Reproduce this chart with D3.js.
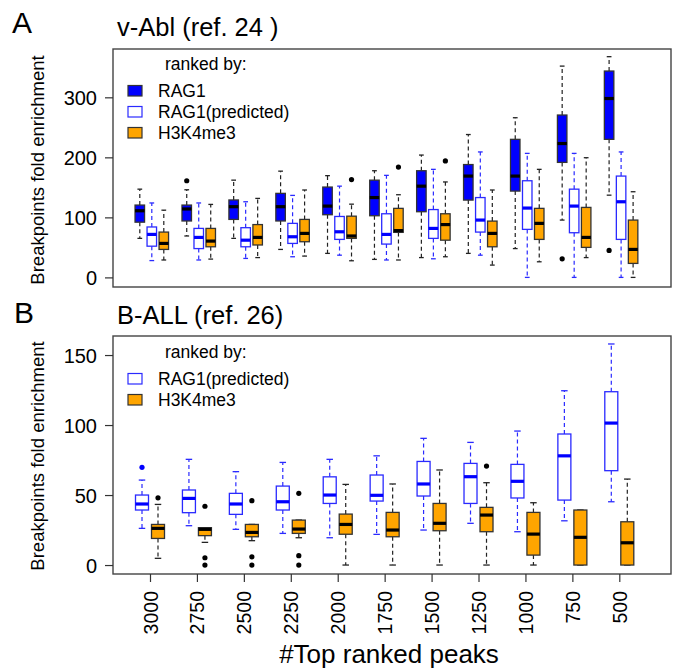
<!DOCTYPE html>
<html><head><meta charset="utf-8">
<script src="https://cdn.jsdelivr.net/npm/d3@7"></script>
<style>
body{margin:0;background:#fff}
svg{display:block}
text{font-family:"Liberation Sans",Arial,Helvetica,sans-serif;fill:#000}
</style>
</head><body><svg id="c" width="678" height="670"></svg>
<script>
// ---------- DATA ----------
const groups = ["3000","2750","2500","2250","2000","1750","1500","1250","1000","750","500"];
// each box: [lower whisker, Q1, median, Q3, upper whisker]
const ablRAG1 = [[65,92,111,120.5,147],[69,94,114,120.5,146],[65,96.6,117.8,129,162],[46.6,94,117.8,140,177],[40,104.4,118.8,150.5,169.5],[30,102.7,133,162,177.7],[33,109.4,152,177.7,203.8],[40,128.8,168.8,188,238],[48,143.8,168.8,230,266],[95.5,191.6,223,270.5,352],[137,230,298,343.8,367.7]];
const ablRAG1Out = [[],[161],[],[],[],[],[],[],[],[31],[45]];
const ablPred = [[28,52,71.6,84,124],[29,48,66.6,81.6,124],[31.6,51,62,82.8,126],[34.4,56.6,67.7,90,136.6],[37,63.3,76,101.5,152],[29,55.5,71.6,106,170],[31,65,81.6,113,180],[37,75.5,95.5,133,209],[0,80,115.5,161,206.6],[0,74.4,118.8,147,206.6],[0,63.3,126,168.8,209]];
const ablPredOut = [[],[],[],[],[],[],[],[],[],[],[]];
const ablH3K = [[29,46.6,56.6,75.5,112],[30.5,51,60.5,81.6,121.6],[33,54,66.6,88,131.6],[35.5,59.4,73.3,96.6,145.6],[27.7,65,69,102,122],[29,75,78,115,137.7],[34.4,62,88,106,159],[20.5,51,73.3,93.8,145.6],[26,63.3,90,115,180],[33,50,66.6,116.6,199.4],[0,23.3,46.6,95.5,142.7]];
const ablH3KOut = [[],[],[],[],[163],[183.8],[194],[],[],[],[]];

const ballPred = [[26.2,39.3,43.6,50,60.7],[28.1,37.4,47.6,53.6,75.5],[25.5,36.2,43.6,51.2,66.7],[22.6,39.3,45.2,56.4,73.3],[19.5,44,50,63,75.5],[21.9,45.7,49.8,64.3,78],[25,49.3,57.9,74,90.5],[29.8,44,63.1,72.6,87.6],[23.8,47.9,59.8,71.9,95.7],[31.6,46.4,78,93.6,124.5],[45.2,67.4,101.4,123.8,157.9]];
const ballPredOut = [[69.8],[],[],[],[],[],[],[],[],[],[]];
const ballH3K = [[4.8,19,26.2,29,43.3],[16.2,21,25.5,26.7,26.7],[17.4,20.2,23.3,29,29],[19.5,22.6,25.7,32.1,32.1],[0,22,29,36.4,57.6],[0,20.2,25,37.6,57.9],[0,24.5,29.8,44,67.9],[0,23.8,35.7,41.2,58.8],[0,7.1,22.1,37.6,44.5],[0,0,19.8,39.3,39.3],[0,0,15.9,30.9,61.4]];
const ballH3KOut = [[48],[42,5.2,0],[46,5.9,0],[51.2,6.7,0],[],[],[],[70.7],[],[],[]];

const ablTicks = [0,100,200,300];
const ballTicks = [0,50,100,150];
const seriesA = ["RAG1","RAG1(predicted)","H3K4me3"];
const seriesB = ["RAG1(predicted)","H3K4me3"];

// ---------- STYLE ----------
const styles = {
  "RAG1": {fill:"#0000ff", stroke:"#333", median:"#000", whisk:"#222", out:"#000"},
  "RAG1(predicted)": {fill:"#fff", stroke:"#2a2aff", median:"#0000ff", whisk:"#2a2aff", out:"#0000ff"},
  "H3K4me3": {fill:"#ffa500", stroke:"#333", median:"#000", whisk:"#222", out:"#000"}
};
const svg = d3.select("#c");
const L = 113, R = 671;
const x = d3.scalePoint().domain(groups).range([150, 619.3]);

function panel(cfg){
  const g = svg.append("g");
  const y = d3.scaleLinear().domain(cfg.domain).range([cfg.bottom, cfg.top]);
  const sub = d3.scalePoint().domain(cfg.series).range(cfg.offRange);
  cfg.data.forEach((arr, si) => {
    const name = cfg.series[si];
    const st = styles[name];
    const outs = cfg.outs[si];
    arr.forEach((b, gi) => {
      const cx = x(groups[gi]) + sub(name);
      const w = cfg.bw, hw = w/2, cap = w/4;
      const bg = g.append("g");
      bg.append("line").attr("x1",cx).attr("x2",cx).attr("y1",y(b[3])).attr("y2",y(b[4]))
        .attr("stroke",st.whisk).attr("stroke-width",1.2).attr("stroke-dasharray","4,3");
      bg.append("line").attr("x1",cx).attr("x2",cx).attr("y1",y(b[1])).attr("y2",y(b[0]))
        .attr("stroke",st.whisk).attr("stroke-width",1.2).attr("stroke-dasharray","4,3");
      [b[0], b[4]].forEach(v => bg.append("line").attr("x1",cx-cap).attr("x2",cx+cap)
        .attr("y1",y(v)).attr("y2",y(v)).attr("stroke",st.whisk).attr("stroke-width",1.3));
      bg.append("rect").attr("x",cx-hw).attr("y",y(b[3])).attr("width",w).attr("height",Math.max(0,y(b[1])-y(b[3])))
        .attr("fill",st.fill).attr("stroke",st.stroke).attr("stroke-width",1.3);
      bg.append("line").attr("x1",cx-hw).attr("x2",cx+hw).attr("y1",y(b[2])).attr("y2",y(b[2]))
        .attr("stroke",st.median).attr("stroke-width",3.2);
      (outs[gi]||[]).forEach(v => bg.append("circle").attr("cx",cx).attr("cy",y(v)).attr("r",2.6).attr("fill",st.out));
    });
  });
  g.append("rect").attr("x",L).attr("y",cfg.top).attr("width",R-L).attr("height",cfg.bottom-cfg.top)
    .attr("fill","none").attr("stroke","#444").attr("stroke-width",1.4);
  const ya = g.append("g").attr("transform",`translate(${L},0)`)
    .call(d3.axisLeft(y).tickValues(cfg.ticks).tickSize(8).tickPadding(8).tickFormat(d3.format("d")));
  ya.select(".domain").remove();
  ya.selectAll(".tick line").attr("stroke","#333").attr("stroke-width",1.2);
  ya.selectAll(".tick text").style("font-size","20px").attr("dy","0.36em");
  g.append("text").attr("transform",`translate(44,${cfg.ycenter}) rotate(-90)`).attr("text-anchor","middle")
    .style("font-size","18.5px").text("Breakpoints fold enrichment");
  g.append("text").attr("x",cfg.letterX).attr("y",cfg.letterY).style("font-size","30px").text(cfg.letter);
  g.append("text").attr("x",117).attr("y",cfg.titleY).style("font-size","25.5px").text(cfg.title);
  const lg = g.append("g");
  lg.append("text").attr("x",165).attr("y",cfg.legTop).style("font-size","17.5px").text("ranked by:");
  cfg.series.forEach((name,i) => {
    const st = styles[name];
    const by = cfg.legTop + 26.5 + i*21;
    lg.append("rect").attr("x",128).attr("y",by-11).attr("width",14).attr("height",10.5)
      .attr("fill",st.fill).attr("stroke",st.stroke).attr("stroke-width",1.2);
    lg.append("text").attr("x",158).attr("y",by).style("font-size","17.5px").text(name);
  });
  return g;
}

panel({domain:[-16,380.5], top:49, bottom:287, series:seriesA, offRange:[-10.2,13.8], bw:9.5,
  data:[ablRAG1, ablPred, ablH3K], outs:[ablRAG1Out, ablPredOut, ablH3KOut], ticks:ablTicks,
  ycenter:170, letter:"A", letterX:12, letterY:33, title:"v-Abl (ref. 24 )", titleY:36, legTop:70});

panel({domain:[-6.4,163.6], top:336, bottom:574, series:seriesB, offRange:[-8,8], bw:13,
  data:[ballPred, ballH3K], outs:[ballPredOut, ballH3KOut], ticks:ballTicks,
  ycenter:456, letter:"B", letterX:14, letterY:323, title:"B-ALL (ref. 26)", titleY:324, legTop:358});

const xa = svg.append("g").attr("transform","translate(0,574)")
  .call(d3.axisBottom(x).tickSize(8).tickSizeOuter(0));
xa.select(".domain").remove();
xa.selectAll(".tick line").attr("stroke","#333").attr("stroke-width",1.2);
xa.selectAll(".tick text").attr("transform","rotate(-90)").attr("x",-17).attr("y",0).attr("dy","0.36em")
  .attr("text-anchor","end").style("font-size","19.5px");
svg.append("text").attr("x",389).attr("y",663).attr("text-anchor","middle").style("font-size","26px").text("#Top ranked peaks");
</script>
</body></html>
